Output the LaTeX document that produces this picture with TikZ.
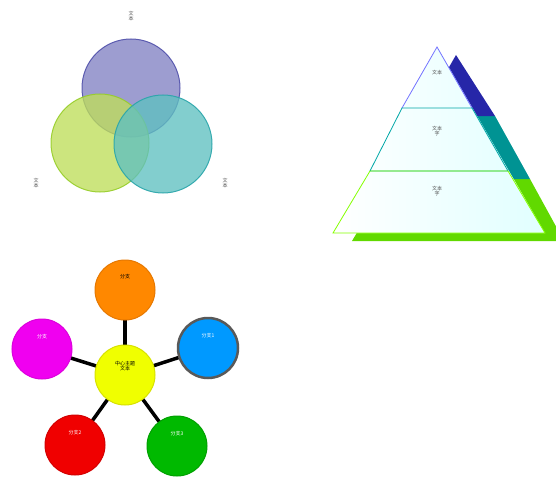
\documentclass[tikz,border=0pt]{standalone}
\usepackage{fontspec}
\newfontfamily\cjk{Noto Sans CJK SC}
\usetikzlibrary{shadings}
\begin{document}
\begin{tikzpicture}[x=1pt,y=-1pt,
  lbl/.style={font=\cjk\fontsize{5}{5}\selectfont,text=black!70,inner sep=0pt,align=center},
  venn/.style={circle,minimum size=98pt,inner sep=0pt,line width=1pt,fill opacity=0.78,draw opacity=0.9},
  ball/.style={circle,minimum size=60pt,inner sep=0pt,line width=1pt},
  spoke/.style={line width=3.5pt,black}]
\useasboundingbox (0,0) rectangle (556,476);
% Venn
\node[venn,draw={rgb,255:red,80;green,80;blue,170},fill={rgb,255:red,130;green,130;blue,195}] (vt) at (131,88) {};
\node[venn,draw={rgb,255:red,150;green,205;blue,40},fill={rgb,255:red,190;green,222;blue,90}] (vl) at (100,143) {};
\node[venn,draw={rgb,255:red,40;green,165;blue,170},fill={rgb,255:red,95;green,192;blue,192}] (vr) at (163,144) {};
\node[lbl] (lt) at (131,16) {文\\本};
\node[lbl] (ll) at (36,183) {文\\本};
\node[lbl] (lr) at (225,183) {文\\本};
% Pyramid shadow
\begin{scope}[shift={(19,8)}]
\fill[lime!60!green!85!black] (333,233) -- (370,171) -- (511,171) -- (545,233) -- cycle;
\fill[teal!85!cyan] (370,171) -- (402,108) -- (476,108) -- (511,171) -- cycle;
\fill[blue!60!black!85] (402,108) -- (437,47) -- (476,108) -- cycle;
\end{scope}
% Pyramid
\shade[left color=white,right color=cyan!12!white,middle color=cyan!6!white] (333,233) -- (437,47) -- (545,233) -- cycle;
\draw[line width=0.8pt,blue!55!white] (402,108) -- (437,47) -- (472,108);
\draw[line width=0.8pt,teal!70!cyan] (402,108) -- (472,108) -- (508,171) -- (370,171) -- cycle;
\draw[line width=0.8pt,lime!70!green] (370,171) -- (508,171) -- (545,233) -- (333,233) -- cycle;
\node[lbl] (p1) at (437,73) {文本};
\node[lbl] (p2) at (437,131) {文本\\字};
\node[lbl] (p3) at (437,191) {文本\\字};
% Star
\coordinate (c0) at (125,375);
\coordinate (c1) at (125,290);
\coordinate (c2) at (208,348);
\coordinate (c3) at (42,349);
\coordinate (c4) at (75,445);
\coordinate (c5) at (177,446);
\draw[spoke] (c0) -- (c1);
\draw[spoke] (c0) -- (c2);
\draw[spoke] (c0) -- (c3);
\draw[spoke] (c0) -- (c4);
\draw[spoke] (c0) -- (c5);
\node[ball,fill={rgb,255:red,255;green,136;blue,0},draw={rgb,255:red,230;green,120;blue,0}] (b1) at (c1) {};
\node[ball,fill={rgb,255:red,0;green,153;blue,255},draw=black!65,line width=2.5pt] (b2) at (c2) {};
\node[ball,fill={rgb,255:red,240;green,0;blue,240},draw={rgb,255:red,220;green,0;blue,220}] (b3) at (c3) {};
\node[ball,fill={rgb,255:red,240;green,0;blue,0},draw={rgb,255:red,210;green,0;blue,0}] (b4) at (c4) {};
\node[ball,fill={rgb,255:red,0;green,185;blue,0},draw={rgb,255:red,0;green,160;blue,0}] (b5) at (c5) {};
\node[ball,fill={rgb,255:red,240;green,255;blue,0},draw={rgb,255:red,215;green,225;blue,0}] (b0) at (c0) {};
\node[lbl,text=black] at (125,277) {分支};
\node[lbl,text=white] at (208,336) {分支1};
\node[lbl,text=white] at (42,337) {分支};
\node[lbl,text=white] at (75,433) {分支2};
\node[lbl,text=white] at (177,434) {分支3};
\node[lbl,text=black] at (125,366) {中心主题\\文本};
\end{tikzpicture}
\end{document}
